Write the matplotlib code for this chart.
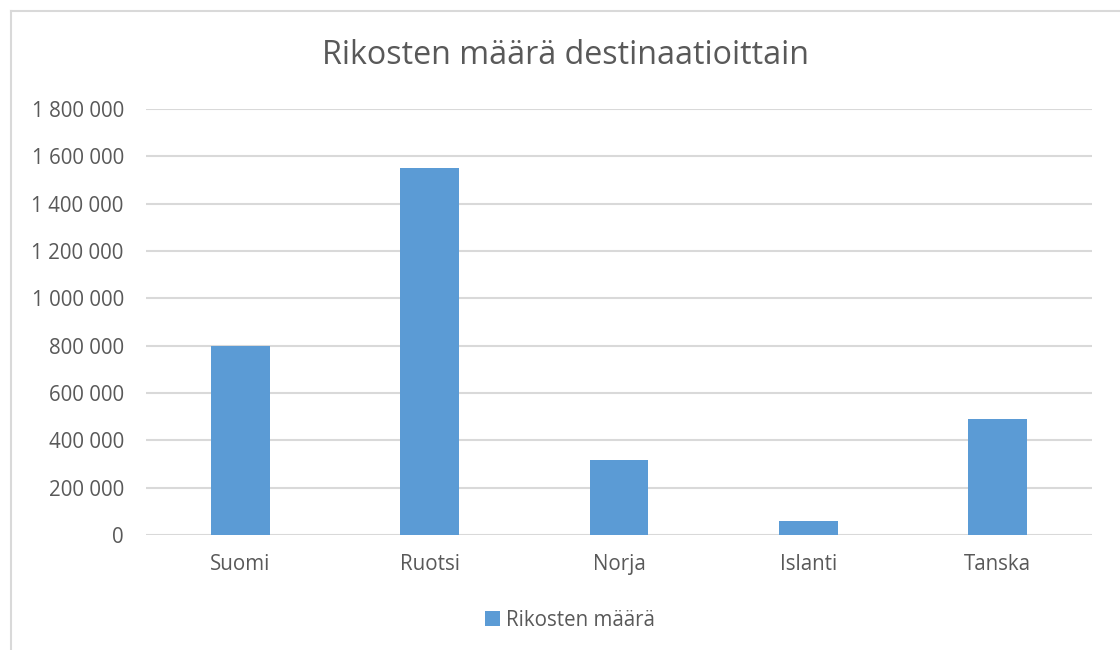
import matplotlib.pyplot as plt
from matplotlib.lines import Line2D
from matplotlib.ticker import FuncFormatter

categories = ["Suomi", "Ruotsi", "Norja", "Islanti", "Tanska"]
values = [800000, 1550000, 318000, 60000, 490000]
series_name = "Rikosten määrä"
title = "Rikosten määrä destinaatioittain"

plt.rcParams['font.family'] = ['Open Sans', 'DejaVu Sans']
txt = '#595959'
grid = '#D9D9D9'
bar_col = '#5B9BD5'

fig = plt.figure(figsize=(11.2, 6.5), dpi=100)
ax = fig.add_axes([146 / 1120, 1 - 535 / 650, 946 / 1120, 426 / 650])

x = range(len(categories))
ax.bar(x, values, width=0.31, color=bar_col, label=series_name, zorder=3)
ax.set_xlim(-0.5, len(categories) - 0.5)
ax.set_ylim(0, 1800000)
ax.set_yticks(range(0, 1800001, 200000))
ax.yaxis.set_major_formatter(FuncFormatter(lambda v, p: f"{int(v):,}".replace(",", " ")))
ax.set_xticks(list(x))
ax.set_xticklabels(categories)

for s in ax.spines.values():
    s.set_visible(False)
ax.yaxis.grid(True, color=grid, linewidth=1.5, zorder=0)
ax.tick_params(axis='both', length=0, colors=txt, labelsize=14.8)
ax.tick_params(axis='y', pad=16)
ax.tick_params(axis='x', pad=14)

fig.text(0.505, 1 - 56 / 650, title, ha='center', va='center', fontsize=23.2, color=txt)

leg = fig.legend(loc='center', bbox_to_anchor=(0.509, 1 - 620 / 650), frameon=False,
                 fontsize=14.8, handlelength=0.75, handleheight=0.75, handletextpad=0.3)
for t in leg.get_texts():
    t.set_color(txt)

# chart border (only left and top visible in the crop)
bx, by = 10.5 / 1120, 1 - 10.5 / 650
fig.add_artist(Line2D([bx, 1], [by, by], color=grid, linewidth=1.5))
fig.add_artist(Line2D([bx, bx], [0, by], color=grid, linewidth=1.5))

fig.savefig("out.png", dpi=100)
